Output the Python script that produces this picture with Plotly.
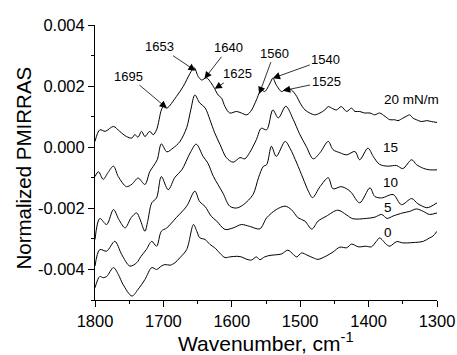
import numpy as np
import plotly.graph_objects as go

# PMIRRAS spectra at several surface pressures (signal in units of 1e-3)
wn_20 = [1800, 1793, 1785, 1773, 1764, 1754, 1746, 1742, 1737, 1732, 1727, 1720, 1715, 1710, 1703,
         1700, 1695, 1681, 1671, 1661, 1655, 1649, 1644, 1637, 1627, 1620, 1615, 1610, 1603, 1593,
         1586, 1578, 1571, 1564, 1557, 1552, 1544, 1540, 1535, 1527, 1520, 1513, 1505, 1500, 1493,
         1486, 1479, 1471, 1464, 1459, 1454, 1447, 1440, 1432, 1425, 1420, 1413, 1406, 1398, 1391,
         1384, 1376, 1369, 1362, 1357, 1350, 1345, 1340, 1335, 1330, 1323, 1315, 1308, 1300]
pm_20 = [0.19, 0.57, 0.52, 0.68, 0.52, 0.35, 0.30, 0.41, 0.33, 0.52, 0.35, 0.52, 0.41, 0.57, 1.22,
         1.33, 1.28, 1.66, 1.99, 2.42, 2.60, 2.31, 2.20, 2.27, 1.99, 1.71, 1.61, 1.33, 1.12, 1.17,
         1.12, 1.06, 1.22, 1.55, 1.88, 1.82, 2.10, 2.26, 2.04, 1.82, 1.93, 1.88, 1.66, 1.44, 1.22,
         1.12, 1.06, 1.12, 1.22, 1.33, 1.28, 1.22, 1.33, 1.17, 1.28, 1.17, 1.17, 1.12, 1.12, 1.06,
         1.12, 1.01, 0.90, 0.90, 0.87, 0.95, 1.01, 1.06, 0.95, 0.90, 0.84, 0.87, 0.84, 0.81]

wn_15 = [1800, 1795, 1788, 1781, 1773, 1766, 1754, 1746, 1737, 1727, 1720, 1715, 1709, 1703, 1695,
         1686, 1676, 1666, 1660, 1654, 1647, 1639, 1632, 1625, 1617, 1608, 1598, 1588, 1581, 1574,
         1564, 1557, 1549, 1540, 1532, 1521, 1510, 1501, 1491, 1481, 1471, 1459, 1452, 1442, 1432,
         1420, 1413, 1401, 1393, 1384, 1372, 1359, 1350, 1337, 1330, 1320, 1311, 1300]
pm_15 = [-0.96, -0.80, -1.05, -0.83, -0.62, -0.96, -1.29, -1.21, -1.01, -1.22, -0.80, -0.63, -0.41, 0.11, -0.15,
         -0.03, 0.18, 0.64, 1.22, 1.71, 1.45, 1.29, 0.90, 0.47, 0.08, -0.34, -0.49, -0.34, -0.38, -0.18,
         0.25, 0.62, 0.57, 1.22, 0.96, 1.34, 0.90, 0.44, 0.02, -0.38, -0.18, 0.19, -0.08, -0.18, -0.25,
         -0.14, -0.41, -0.03, -0.31, -0.56, -0.62, -0.60, -0.70, -0.41, -0.57, -0.69, -0.74, -0.74]

wn_10 = [1800, 1793, 1783, 1773, 1765, 1756, 1747, 1739, 1734, 1727, 1723, 1717, 1710, 1703, 1693,
         1683, 1673, 1661, 1652, 1642, 1635, 1627, 1613, 1603, 1593, 1583, 1569, 1561, 1554, 1549,
         1542, 1535, 1522, 1515, 1505, 1496, 1488, 1482, 1471, 1459, 1452, 1440, 1430, 1425, 1413,
         1398, 1391, 1381, 1364, 1352, 1337, 1328, 1315, 1309, 1300]
pm_10 = [-3.02, -2.33, -2.53, -2.04, -2.37, -2.64, -2.30, -2.15, -2.37, -2.75, -2.43, -1.82, -1.66, -0.96, -1.39,
         -0.98, -0.74, -0.19, 0.10, -0.30, -0.52, -0.95, -1.50, -1.93, -1.99, -1.88, -1.55, -1.00, -0.63, -0.57,
         0.03, -0.30, 0.19, -0.03, -0.52, -1.01, -1.44, -1.65, -1.29, -1.00, -1.36, -1.29, -1.39, -1.49, -1.82,
         -1.33, -1.61, -1.66, -1.55, -1.88, -1.68, -1.85, -1.98, -1.94, -1.82]

wn_5 = [1800, 1793, 1783, 1771, 1761, 1749, 1739, 1733, 1725, 1717, 1710, 1703, 1695, 1681, 1666,
        1654, 1647, 1639, 1630, 1622, 1610, 1598, 1586, 1574, 1559, 1549, 1535, 1522, 1513, 1503,
        1493, 1483, 1474, 1462, 1445, 1432, 1423, 1403, 1391, 1381, 1373, 1364, 1350, 1340, 1330,
        1320, 1311, 1300]
pm_5 = [-3.89, -3.35, -3.40, -3.08, -3.51, -3.89, -3.78, -3.58, -3.35, -3.08, -3.24, -2.75, -2.64, -2.30, -1.93,
        -1.44, -1.78, -1.94, -2.26, -2.42, -2.69, -2.64, -2.53, -2.59, -2.67, -2.31, -2.04, -1.93, -2.04, -2.31,
        -2.42, -2.68, -2.42, -2.26, -2.06, -2.22, -2.34, -2.33, -2.29, -2.20, -2.33, -2.25, -2.15, -2.10, -2.02,
        -2.10, -2.20, -2.15]

wn_0 = [1800, 1793, 1788, 1783, 1773, 1766, 1759, 1746, 1737, 1727, 1717, 1710, 1703, 1698, 1690,
        1683, 1676, 1666, 1656, 1651, 1647, 1639, 1632, 1625, 1610, 1603, 1593, 1586, 1578, 1571,
        1564, 1559, 1552, 1544, 1535, 1527, 1518, 1510, 1505, 1498, 1490, 1481, 1474, 1462, 1452,
        1442, 1432, 1425, 1415, 1404, 1396, 1389, 1384, 1374, 1369, 1359, 1350, 1335, 1320, 1311,
        1306, 1300]
pm_0 = [-4.60, -4.23, -4.27, -4.23, -3.94, -4.16, -4.49, -4.87, -4.65, -4.33, -3.94, -4.00, -3.89, -3.84, -3.86,
        -3.78, -3.62, -3.35, -2.53, -2.76, -2.96, -3.02, -3.18, -3.29, -3.61, -3.59, -3.57, -3.59, -3.67, -3.69,
        -3.59, -3.68, -3.59, -3.54, -3.52, -3.49, -3.37, -3.51, -3.59, -3.46, -3.53, -3.62, -3.67, -3.56, -3.43,
        -3.27, -3.29, -3.17, -3.26, -3.24, -3.26, -3.09, -2.97, -3.18, -3.24, -3.09, -3.13, -3.12, -3.08, -2.97,
        -2.91, -2.75]

pressure_labels = ["0", "5", "10", "15", "20 mN/m"]
band_labels = [1695, 1653, 1640, 1625, 1560, 1540, 1525]

x_ticks = [1800, 1700, 1600, 1500, 1400, 1300]
y_ticks = [0.004, 0.002, 0.000, -0.002, -0.004]
y_tick_text = ["0.004", "0.002", "0.000", "-0.002", "-0.004"]

FONT = "Liberation Sans, Arial, sans-serif"

spectra = [(wn_0, pm_0), (wn_5, pm_5), (wn_10, pm_10), (wn_15, pm_15), (wn_20, pm_20)]

fig = go.Figure()
for wn, pm in spectra:
    fig.add_trace(go.Scatter(
        x=wn, y=np.array(pm) * 1e-3, mode="lines",
        line=dict(color="black", width=1, shape="spline", smoothing=0.9),
        showlegend=False, hoverinfo="skip"))

# curve labels placed beside the right-hand end of each spectrum
label_pos = [(1371, -2.78e-3), (1371, -1.96e-3), (1368, -1.14e-3), (1368, 0.0), (1338, 1.55e-3)]
for text, (lx, ly) in zip(pressure_labels, label_pos):
    fig.add_annotation(x=lx, y=ly, text=text, showarrow=False,
                       font=dict(family=FONT, size=13.5, color="black"))

# band assignments with arrows onto the 20 mN/m spectrum
top_wn = np.array(wn_20[::-1], dtype=float)
top_pm = np.array(pm_20[::-1]) * 1e-3
arrow_offsets = [(-38, -32), (-36, -24), (24, -31), (23, -15), (15, -41), (53, -19), (43, -9)]
for band, (ax, ay) in zip(band_labels, arrow_offsets):
    fig.add_annotation(x=band, y=float(np.interp(band, top_wn, top_pm)), text=str(band),
                       showarrow=True, arrowhead=2, arrowsize=1.8, arrowwidth=0.8,
                       arrowcolor="black", standoff=0, ax=ax, ay=ay,
                       font=dict(family=FONT, size=13, color="black"))

# axis titles
fig.add_annotation(x=0.5, y=0, xref="paper", yref="paper", yshift=-42,
                   text="Wavenumber, cm<sup>-1</sup>", showarrow=False,
                   xanchor="center", yanchor="middle",
                   font=dict(family=FONT, size=21, color="black"))
fig.add_annotation(x=0, y=0.5, xref="paper", yref="paper", xshift=-72, yshift=-6,
                   text="Normalized PMIRRAS", showarrow=False, textangle=-90,
                   xanchor="center", yanchor="middle",
                   font=dict(family=FONT, size=20.5, color="black"))

axis_common = dict(showline=True, linecolor="black", linewidth=1, ticks="outside",
                   ticklen=6, tickwidth=1, tickcolor="black", showgrid=False, zeroline=False,
                   mirror=False, automargin=False,
                   tickfont=dict(family=FONT, size=16.5, color="black"))

fig.update_xaxes(range=[1800, 1300], tickmode="array", tickvals=x_ticks,
                 minor=dict(dtick=50, tick0=1300, ticks="outside", ticklen=3, tickcolor="black", showgrid=False),
                 **axis_common)
fig.update_yaxes(range=[-0.005, 0.004], tickmode="array", tickvals=y_ticks, ticktext=y_tick_text,
                 minor=dict(dtick=0.001, tick0=0, ticks="outside", ticklen=3, tickcolor="black", showgrid=False),
                 **axis_common)

fig.update_layout(width=457, height=355, margin=dict(l=95, r=20, t=25, b=55),
                  plot_bgcolor="white", paper_bgcolor="white",
                  font=dict(family=FONT, color="black"))

fig.write_html("out.html")
